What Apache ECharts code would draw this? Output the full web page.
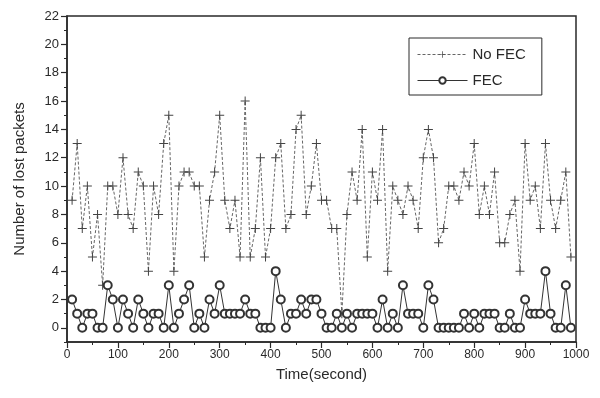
<!DOCTYPE html>
<html>
<head>
<meta charset="utf-8">
<script src="https://cdn.jsdelivr.net/npm/echarts@6/dist/echarts.min.js"></script>
<style>
  html, body { margin: 0; padding: 0; background: #fff; }
  #chart { width: 600px; height: 398px; }
</style>
</head>
<body>
<div id="chart"></div>
<script>
const times = [10, 20, 30, 40, 50, 60, 70, 80, 90, 100,
  110, 120, 130, 140, 150, 160, 170, 180, 190, 200,
  210, 220, 230, 240, 250, 260, 270, 280, 290, 300,
  310, 320, 330, 340, 350, 360, 370, 380, 390, 400,
  410, 420, 430, 440, 450, 460, 470, 480, 490, 500,
  510, 520, 530, 540, 550, 560, 570, 580, 590, 600,
  610, 620, 630, 640, 650, 660, 670, 680, 690, 700,
  710, 720, 730, 740, 750, 760, 770, 780, 790, 800,
  810, 820, 830, 840, 850, 860, 870, 880, 890, 900,
  910, 920, 930, 940, 950, 960, 970, 980, 990]

const noFec = [9, 13, 7, 10, 5, 8, 3, 10, 10, 8,
  12, 8, 7, 11, 10, 4, 10, 8, 13, 15,
  4, 10, 11, 11, 10, 10, 5, 9, 11, 15,
  9, 7, 9, 5, 16, 5, 7, 12, 5, 7,
  12, 13, 7, 8, 14, 15, 8, 10, 13, 9,
  9, 7, 7, 1, 8, 11, 9, 14, 5, 11,
  9, 14, 4, 10, 9, 8, 10, 9, 7, 12,
  14, 12, 6, 7, 10, 10, 9, 11, 10, 13,
  8, 10, 8, 11, 6, 6, 8, 9, 4, 13,
  9, 10, 7, 13, 9, 7, 9, 11, 5]

const fec = [2, 1, 0, 1, 1, 0, 0, 3, 2, 0,
  2, 1, 0, 2, 1, 0, 1, 1, 0, 3,
  0, 1, 2, 3, 0, 1, 0, 2, 1, 3,
  1, 1, 1, 1, 2, 1, 1, 0, 0, 0,
  4, 2, 0, 1, 1, 2, 1, 2, 2, 1,
  0, 0, 1, 0, 1, 0, 1, 1, 1, 1,
  0, 2, 0, 1, 0, 3, 1, 1, 1, 0,
  3, 2, 0, 0, 0, 0, 0, 1, 0, 1,
  0, 1, 1, 1, 0, 0, 1, 0, 0, 2,
  1, 1, 1, 4, 1, 0, 0, 3, 0]

const yTicks = [0, 2, 4, 6, 8, 10, 12, 14, 16, 18, 20, 22]
const yMinorTicks = [-1, 1, 3, 5, 7, 9, 11, 13, 15, 17, 19, 21]

const ink = '#2a2a2a'
const font = 'Liberation Sans, Arial, sans-serif'
// thin plus sign, drawn filled
const plus = 'path://M4,0 H5 V4 H9 V5 H5 V9 H4 V5 H0 V4 H4 Z'

const chart = echarts.init(document.getElementById('chart'))
chart.setOption({
  backgroundColor: '#fff',
  animation: false,
  textStyle: { fontFamily: font },
  grid: { left: 67, right: 24, top: 16, bottom: 56, show: true, borderColor: ink, borderWidth: 1.5 },
  legend: {
    orient: 'vertical', left: 409, top: 38,
    padding: [9, 16, 7, 8], itemGap: 11, itemWidth: 50, itemHeight: 8,
    borderColor: ink, borderWidth: 1,
    lineStyle: { width: 1 },
    textStyle: { fontSize: 15, color: ink, fontFamily: font },
    data: ['No FEC', 'FEC'],
  },
  xAxis: {
    type: 'value', min: 0, max: 1000, interval: 100,
    name: 'Time(second)', nameLocation: 'middle', nameGap: 25,
    nameTextStyle: { fontSize: 15, color: ink, fontFamily: font },
    axisLine: { onZero: false, lineStyle: { color: ink, width: 1.5 } },
    axisTick: { length: 6, lineStyle: { color: ink, width: 1.2 } },
    minorTick: { show: true, splitNumber: 2, length: 3, lineStyle: { color: ink } },
    axisLabel: { fontSize: 12, color: ink, margin: 7, formatter: (v) => String(v) },
    splitLine: { show: false },
  },
  yAxis: [
    {
      type: 'value', min: -1, max: 22,
      name: 'Number of lost packets', nameLocation: 'middle', nameGap: 40,
      nameTextStyle: { fontSize: 15, color: ink, fontFamily: font },
      axisLine: { show: true, lineStyle: { color: ink, width: 1.5 } },
      axisTick: { customValues: yTicks, length: 6, lineStyle: { color: ink, width: 1.2 } },
      axisLabel: { customValues: yTicks, fontSize: 13, color: ink, margin: 8 },
      splitLine: { show: false },
    },
    {
      type: 'value', min: -1, max: 22, position: 'left',
      axisLine: { show: false },
      axisTick: { customValues: yMinorTicks, length: 3, lineStyle: { color: ink } },
      axisLabel: { show: false },
      splitLine: { show: false },
    },
  ],
  series: [
    {
      name: 'No FEC', type: 'line',
      data: times.map((t, i) => [t, noFec[i]]),
      symbol: plus, symbolSize: 9,
      itemStyle: { color: '#444' },
      lineStyle: { color: '#666', width: 1, type: [3, 2] },
    },
    {
      name: 'FEC', type: 'line',
      data: times.map((t, i) => [t, fec[i]]),
      symbol: 'emptyCircle', symbolSize: 8,
      itemStyle: { color: '#333', borderWidth: 1 },
      lineStyle: { color: '#333', width: 1 },
    },
  ],
})
</script>
</body>
</html>
